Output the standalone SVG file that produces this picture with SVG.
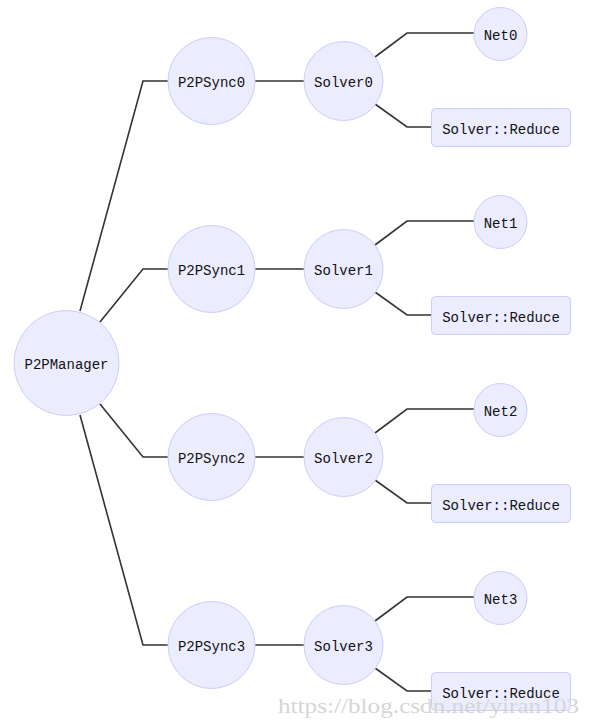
<svg xmlns="http://www.w3.org/2000/svg" width="589" height="726" viewBox="0 0 589 726">
<style>
.n{fill:#ECECFF;stroke:#CCCCFF;stroke-width:1}
.t{font-family:"Liberation Mono","DejaVu Sans Mono",monospace;font-size:14px;fill:#111;text-anchor:middle;dominant-baseline:central}
.e{fill:none;stroke:#333;stroke-width:1.6}
.w{font-family:"Liberation Serif",serif;font-size:21px;fill:#d6d6d6}
</style>
<rect width="589" height="726" fill="#fff"/>
<g id="connectors">
<path class="e" d="M80,311 L143,81 L168,81"/>
<path class="e" d="M100,322 L143,269 L168,269"/>
<path class="e" d="M100,404 L143,457 L168,457"/>
<path class="e" d="M80,415 L143,645 L168,645"/>
<path class="e" d="M255,81 L304,81"/>
<path class="e" d="M255,269 L304,269"/>
<path class="e" d="M255,457 L304,457"/>
<path class="e" d="M255,645 L304,645"/>
<path class="e" d="M375,57 L407,33 L474,33"/>
<path class="e" d="M375,245 L407,221 L474,221"/>
<path class="e" d="M375,433 L407,409 L474,409"/>
<path class="e" d="M375,621 L407,597 L474,597"/>
<path class="e" d="M375,104 L407,127 L431,127"/>
<path class="e" d="M375,292 L407,315 L431,315"/>
<path class="e" d="M375,480 L407,503 L431,503"/>
<path class="e" d="M375,668 L407,691 L431,691"/>
</g>
<g id="P2PManager"><circle class="n" cx="66.5" cy="363" r="52.5"/><text class="t" x="66.5" y="365">P2PManager</text></g>
<g id="P2PSync0"><circle class="n" cx="211.5" cy="81" r="43.5"/><text class="t" x="211.5" y="83">P2PSync0</text></g>
<g id="P2PSync1"><circle class="n" cx="211.5" cy="269" r="43.5"/><text class="t" x="211.5" y="271">P2PSync1</text></g>
<g id="P2PSync2"><circle class="n" cx="211.5" cy="457" r="43.5"/><text class="t" x="211.5" y="459">P2PSync2</text></g>
<g id="P2PSync3"><circle class="n" cx="211.5" cy="645" r="43.5"/><text class="t" x="211.5" y="647">P2PSync3</text></g>
<g id="Solver0"><circle class="n" cx="343.5" cy="81" r="39.5"/><text class="t" x="343.5" y="83">Solver0</text></g>
<g id="Solver1"><circle class="n" cx="343.5" cy="269" r="39.5"/><text class="t" x="343.5" y="271">Solver1</text></g>
<g id="Solver2"><circle class="n" cx="343.5" cy="457" r="39.5"/><text class="t" x="343.5" y="459">Solver2</text></g>
<g id="Solver3"><circle class="n" cx="343.5" cy="645" r="39.5"/><text class="t" x="343.5" y="647">Solver3</text></g>
<g id="Net0"><circle class="n" cx="500.5" cy="34" r="26.5"/><text class="t" x="500.5" y="36">Net0</text></g>
<g id="Net1"><circle class="n" cx="500.5" cy="222" r="26.5"/><text class="t" x="500.5" y="224">Net1</text></g>
<g id="Net2"><circle class="n" cx="500.5" cy="410" r="26.5"/><text class="t" x="500.5" y="412">Net2</text></g>
<g id="Net3"><circle class="n" cx="500.5" cy="598" r="26.5"/><text class="t" x="500.5" y="600">Net3</text></g>
<g id="Reduce0"><rect class="n" x="431.5" y="108.5" width="139" height="38" rx="4"/><text class="t" x="501" y="130">Solver::Reduce</text></g>
<g id="Reduce1"><rect class="n" x="431.5" y="296.5" width="139" height="38" rx="4"/><text class="t" x="501" y="318">Solver::Reduce</text></g>
<g id="Reduce2"><rect class="n" x="431.5" y="484.5" width="139" height="38" rx="4"/><text class="t" x="501" y="506">Solver::Reduce</text></g>
<g id="Reduce3"><rect class="n" x="431.5" y="672.5" width="139" height="38" rx="4"/><text class="t" x="501" y="694">Solver::Reduce</text></g>
<text class="w" x="278" y="713" textLength="301" lengthAdjust="spacingAndGlyphs">https://blog.csdn.net/yiran103</text>
</svg>
